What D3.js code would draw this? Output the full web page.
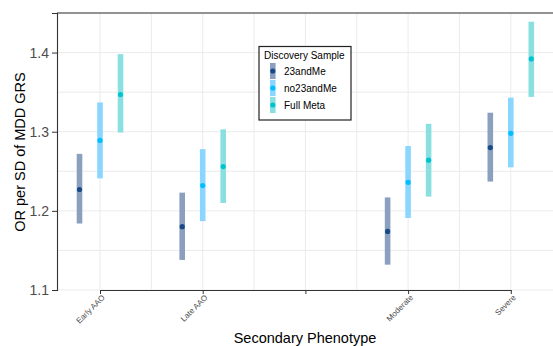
<!DOCTYPE html>
<html>
<head>
<meta charset="utf-8">
<script src="https://cdn.jsdelivr.net/npm/d3@7"></script>
<style>
  body { margin: 0; background: #fff; }
  text { font-family: "Liberation Sans", Arial, sans-serif; }
</style>
</head>
<body>
<div id="chart"></div>
<script>
// categories on x (the blank one is a spacer tick, as in the original)
var phenotypes = ['Early AAO', 'Late AAO', '', 'Moderate', 'Severe'];
var samples = ['23andMe', 'no23andMe', 'Full Meta'];
var yTicks = [1.1, 1.2, 1.3, 1.4];

// OR estimates and CI per sample, one value per phenotype (null = none)
var or23andMe   = [1.227, 1.180, null, 1.174, 1.280];
var lo23andMe   = [1.184, 1.138, null, 1.132, 1.237];
var hi23andMe   = [1.272, 1.223, null, 1.217, 1.324];
var orNo23      = [1.289, 1.232, null, 1.236, 1.298];
var loNo23      = [1.241, 1.187, null, 1.191, 1.255];
var hiNo23      = [1.337, 1.278, null, 1.282, 1.343];
var orMeta      = [1.347, 1.256, null, 1.264, 1.392];
var loMeta      = [1.299, 1.210, null, 1.218, 1.344];
var hiMeta      = [1.398, 1.303, null, 1.310, 1.439];

var barColors = ['#8b9fbf', '#8ad6ff', '#8adfe0'];
var dotColors = ['#174a87', '#00bfff', '#00c4cf'];

var W = 553, H = 346;
var margin = { top: 13, right: -1, bottom: 56, left: 57 };
var width = W - margin.left - margin.right;
var height = H - margin.top - margin.bottom;

var rows = [];
var est = [or23andMe, orNo23, orMeta], los = [lo23andMe, loNo23, loMeta], his = [hi23andMe, hiNo23, hiMeta];
samples.forEach(function (s, si) {
  phenotypes.forEach(function (p, pi) {
    if (est[si][pi] == null) return;
    rows.push({ sample: s, si: si, pheno: p, pi: pi, or: est[si][pi], lo: los[si][pi], hi: his[si][pi] });
  });
});

var svg = d3.select('#chart').append('svg')
  .attr('width', W).attr('height', H);
var g = svg.append('g').attr('transform', `translate(${margin.left},${margin.top})`);

// discrete x with ggplot-like padding
var step = 102.7;
var x = d3.scalePoint().domain(phenotypes.map((d, i) => i))
  .range([43, 43 + step * 4]);
var dodge = d3.scalePoint().domain(d3.range(3)).range([-20.5, 20.5]);

var y = d3.scaleLinear().domain([1.1, 1.45]).range([height, 0]);

// grid
var minorY = [1.15, 1.25, 1.35, 1.45];
g.selectAll('.gy').data(minorY.concat(yTicks)).enter().append('line')
  .attr('x1', 0).attr('x2', width)
  .attr('y1', d => y(d)).attr('y2', d => y(d))
  .attr('stroke', '#ebebeb').attr('stroke-width', 1);
var minorX = d3.range(4).map(i => x(i) + step / 2);
g.selectAll('.gx').data(minorX.concat(phenotypes.map((d, i) => x(i)))).enter().append('line')
  .attr('x1', d => d).attr('x2', d => d)
  .attr('y1', 0).attr('y2', height)
  .attr('stroke', '#ebebeb').attr('stroke-width', 1);

// error bars
g.selectAll('.bar').data(rows).enter().append('rect')
  .attr('x', d => x(d.pi) + dodge(d.si) - 2.8)
  .attr('width', 5.6)
  .attr('y', d => y(d.hi))
  .attr('height', d => y(d.lo) - y(d.hi))
  .attr('fill', d => barColors[d.si]);

g.selectAll('.dot').data(rows).enter().append('circle')
  .attr('cx', d => x(d.pi) + dodge(d.si))
  .attr('cy', d => y(d.or))
  .attr('r', 2.6)
  .attr('fill', d => dotColors[d.si]);

// axes
var yAxis = g.append('g').call(d3.axisLeft(y).tickValues(yTicks).tickSize(5).tickPadding(3).tickFormat(d3.format('.1f')));
yAxis.select('.domain').attr('stroke', '#333').attr('stroke-width', 1.1);
yAxis.selectAll('.tick line').attr('stroke', '#333');
yAxis.selectAll('.tick text').attr('fill', '#4d4d4d').style('font-size', '14px');

var xAxis = g.append('g').attr('transform', `translate(0,${height})`)
  .call(d3.axisBottom(x).tickSize(4).tickSizeOuter(0).tickFormat(i => phenotypes[i]));
xAxis.select('.domain').attr('stroke', '#333').attr('stroke-width', 1.1);
xAxis.selectAll('.tick line').attr('stroke', '#333');
xAxis.selectAll('.tick text')
  .attr('fill', '#4d4d4d').style('font-size', '8px')
  .attr('text-anchor', 'end')
  .attr('transform', 'translate(3,6) rotate(-45)')
  .attr('dy', '0.35em').attr('y', 0).attr('x', 0);

// top border
g.append('line').attr('x1', 0).attr('x2', width).attr('y1', 0).attr('y2', 0)
  .attr('stroke', '#333').attr('stroke-width', 1.1);

// titles
svg.append('text').attr('x', 305).attr('y', 343)
  .attr('text-anchor', 'middle').style('font-size', '14.5px').attr('fill', '#000')
  .text('Secondary Phenotype');
svg.append('text').attr('transform', 'translate(25,152) rotate(-90)')
  .attr('text-anchor', 'middle').style('font-size', '14.5px').attr('fill', '#000')
  .text('OR per SD of MDD GRS');

// legend
var lg = svg.append('g').attr('transform', 'translate(259,46.5)');
lg.append('rect').attr('width', 92).attr('height', 73.5)
  .attr('fill', '#fff').attr('stroke', '#222').attr('stroke-width', 1.2);
lg.append('text').attr('x', 5).attr('y', 12).style('font-size', '10px').text('Discovery Sample');
samples.forEach(function (s, i) {
  var cy = 24.5 + i * 17;
  lg.append('rect').attr('x', 11).attr('y', cy - 8).attr('width', 5.6).attr('height', 16)
    .attr('fill', barColors[i]);
  lg.append('circle').attr('cx', 13.8).attr('cy', cy).attr('r', 2.6).attr('fill', dotColors[i]);
  lg.append('text').attr('x', 25).attr('y', cy + 3.5).style('font-size', '10px').text(s);
});
</script>
</body>
</html>
